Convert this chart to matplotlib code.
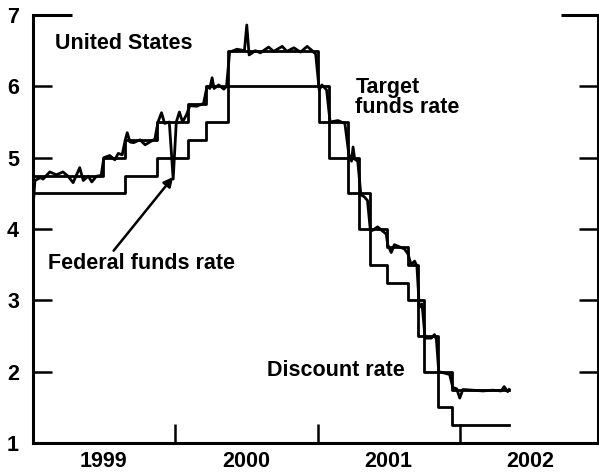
import pandas as pd
import matplotlib
matplotlib.use("Agg")
import matplotlib.pyplot as plt
import matplotlib.dates as mdates

plt.rcParams["font.family"] = ["Liberation Sans", "DejaVu Sans"]
plt.rcParams["font.weight"] = "bold"

# target federal funds rate (step changes)
target_dates = ["1999-01-01", "1999-06-30", "1999-08-24", "1999-11-16", "2000-02-02",
                "2000-03-21", "2000-05-16", "2001-01-03", "2001-01-31", "2001-03-20",
                "2001-04-18", "2001-05-15", "2001-06-27", "2001-08-21", "2001-09-17",
                "2001-10-02", "2001-11-06", "2001-12-11", "2002-05-08"]
target_rate = [4.75, 5.0, 5.25, 5.5, 5.75, 6.0, 6.5, 6.0, 5.5, 5.0,
               4.5, 4.0, 3.75, 3.5, 3.0, 2.5, 2.0, 1.75, 1.75]

# discount rate (step changes)
discount_dates = ["1999-01-01", "1999-08-24", "1999-11-16", "2000-02-02", "2000-03-21",
                  "2000-05-16", "2001-01-04", "2001-01-31", "2001-03-20", "2001-04-18",
                  "2001-05-15", "2001-06-27", "2001-08-21", "2001-09-17", "2001-10-02",
                  "2001-11-06", "2001-12-11", "2002-05-08"]
discount_rate = [4.5, 4.75, 5.0, 5.25, 5.5, 6.0, 5.5, 5.0, 4.5, 4.0,
                 3.5, 3.25, 3.0, 2.5, 2.0, 1.5, 1.25, 1.25]

# effective federal funds rate
fed_dates = ["1999-01-01", "1999-01-06", "1999-01-20", "1999-01-27", "1999-02-13",
             "1999-03-02", "1999-03-19", "1999-04-01", "1999-04-14", "1999-05-01",
             "1999-05-10", "1999-05-23", "1999-06-01", "1999-06-13", "1999-06-25",
             "1999-07-02", "1999-07-17", "1999-07-30", "1999-08-08", "1999-08-18",
             "1999-08-26", "1999-08-31", "1999-09-07", "1999-09-16", "1999-10-03",
             "1999-10-16", "1999-10-28", "1999-11-10", "1999-11-18", "1999-11-27",
             "1999-12-05", "1999-12-17", "1999-12-27", "2000-01-04", "2000-01-12",
             "2000-01-20", "2000-01-30", "2000-02-08", "2000-02-25", "2000-03-14",
             "2000-03-23", "2000-03-30", "2000-04-05", "2000-04-10", "2000-04-22",
             "2000-05-05", "2000-05-12", "2000-05-20", "2000-06-08", "2000-06-27",
             "2000-07-03", "2000-07-09", "2000-07-25", "2000-08-07", "2000-08-28",
             "2000-09-10", "2000-10-02", "2000-10-14", "2000-11-01", "2000-11-18",
             "2000-12-05", "2000-12-18", "2000-12-27", "2001-01-05", "2001-01-12",
             "2001-01-24", "2001-02-02", "2001-02-22", "2001-03-12", "2001-03-22",
             "2001-03-29", "2001-04-02", "2001-04-06", "2001-04-14", "2001-04-22",
             "2001-05-01", "2001-05-09", "2001-05-16", "2001-05-22", "2001-06-04",
             "2001-06-17", "2001-06-26", "2001-06-30", "2001-07-09", "2001-07-17",
             "2001-07-30", "2001-08-12", "2001-08-21", "2001-08-29", "2001-09-07",
             "2001-09-13", "2001-09-19", "2001-09-26", "2001-10-04", "2001-10-20",
             "2001-10-28", "2001-11-02", "2001-11-08", "2001-11-23", "2001-12-06",
             "2001-12-14", "2001-12-24", "2002-01-01", "2002-01-09", "2002-02-04",
             "2002-03-01", "2002-03-27", "2002-04-17", "2002-04-25", "2002-05-04",
             "2002-05-08"]
fed_rate = [4.30, 4.68, 4.72, 4.70, 4.80, 4.76, 4.80, 4.74, 4.65, 4.86,
            4.68, 4.74, 4.66, 4.74, 4.75, 5.00, 5.03, 4.97, 5.06, 5.04,
            5.25, 5.35, 5.22, 5.21, 5.25, 5.18, 5.22, 5.26, 5.50, 5.63,
            5.48, 5.50, 4.70, 5.50, 5.64, 5.50, 5.60, 5.73, 5.72, 5.76,
            6.00, 5.97, 6.12, 5.97, 6.02, 5.96, 6.00, 6.48, 6.52, 6.50,
            6.86, 6.44, 6.50, 6.47, 6.55, 6.49, 6.56, 6.49, 6.54, 6.48,
            6.56, 6.50, 6.45, 5.95, 6.02, 5.95, 5.50, 5.52, 5.48, 5.05,
            4.95, 5.15, 4.98, 4.95, 4.48, 4.45, 4.40, 4.00, 3.98, 4.03,
            3.97, 3.93, 3.78, 3.67, 3.78, 3.75, 3.72, 3.65, 3.50, 3.55,
            3.48, 2.90, 2.95, 2.47, 2.47, 2.52, 2.45, 2.00, 1.98, 1.96,
            1.78, 1.76, 1.63, 1.75, 1.74, 1.73, 1.74, 1.73, 1.79, 1.72,
            1.75]

year_labels = ["1999", "2000", "2001", "2002"]

target = pd.Series(target_rate, index=pd.to_datetime(target_dates))
discount = pd.Series(discount_rate, index=pd.to_datetime(discount_dates))
fed = pd.Series(fed_rate, index=pd.to_datetime(fed_dates))

fig = plt.figure(figsize=(5.99, 4.76), dpi=100)
ax = fig.add_axes([33 / 599, 1 - 443 / 476, 565 / 599, 428 / 476])

ax.plot(target.index, target.values, drawstyle="steps-post", color="black", lw=2.0)
ax.plot(discount.index, discount.values, drawstyle="steps-post", color="black", lw=2.0)
ax.plot(fed.index, fed.values, color="black", lw=2.0)

ax.set_xlim(pd.Timestamp("1999-01-01"), pd.Timestamp("2002-12-22"))
ax.set_ylim(1, 7)

# year boundaries as ticks, year names centred between them
ax.set_xticks(pd.to_datetime(["2000-01-01", "2001-01-01", "2002-01-01"]))
ax.set_xticklabels([])
ax.set_xticks(pd.to_datetime([y + "-07-02" for y in year_labels]), minor=True)
ax.set_xticklabels(year_labels, minor=True)
ax.tick_params(axis="x", which="major", direction="in", length=14, width=1.8)
ax.tick_params(axis="x", which="minor", length=0, pad=6, labelsize=15.5)

ax.set_yticks([1, 2, 3, 4, 5, 6, 7])
ax.tick_params(axis="y", direction="in", length=14, width=1.8, right=True,
               labelsize=15.5, pad=10)

for side in ["left", "right", "bottom"]:
    ax.spines[side].set_linewidth(2.2)
ax.spines["top"].set_visible(False)
# short pieces of the top frame at both corners
ax.plot([0, 0.069], [1, 1], transform=ax.transAxes, color="black", lw=2.2,
        clip_on=False, solid_capstyle="butt")
ax.plot([0.935, 1], [1, 1], transform=ax.transAxes, color="black", lw=2.2,
        clip_on=False, solid_capstyle="butt")

d = mdates.date2num
ax.text(d(pd.Timestamp("1999-02-26")), 6.60, "United States", fontsize=15.5,
        ha="left", va="center")
ax.text(d(pd.Timestamp("2001-04-08")), 5.84, "Target\nfunds rate", fontsize=15.5,
        ha="left", va="center", linespacing=0.95)
ax.text(d(pd.Timestamp("2000-08-24")), 2.01, "Discount rate", fontsize=15.5,
        ha="left", va="center")
ax.annotate("Federal funds rate",
            xy=(d(pd.Timestamp("1999-12-27")), 4.73),
            xytext=(d(pd.Timestamp("1999-02-08")), 3.51),
            fontsize=15.5, ha="left", va="center",
            arrowprops=dict(arrowstyle="-|>", color="black", lw=1.8,
                            mutation_scale=14, shrinkA=0, shrinkB=0,
                            relpos=(0.34, 1.0)))

fig.savefig("out.png", dpi=100)
